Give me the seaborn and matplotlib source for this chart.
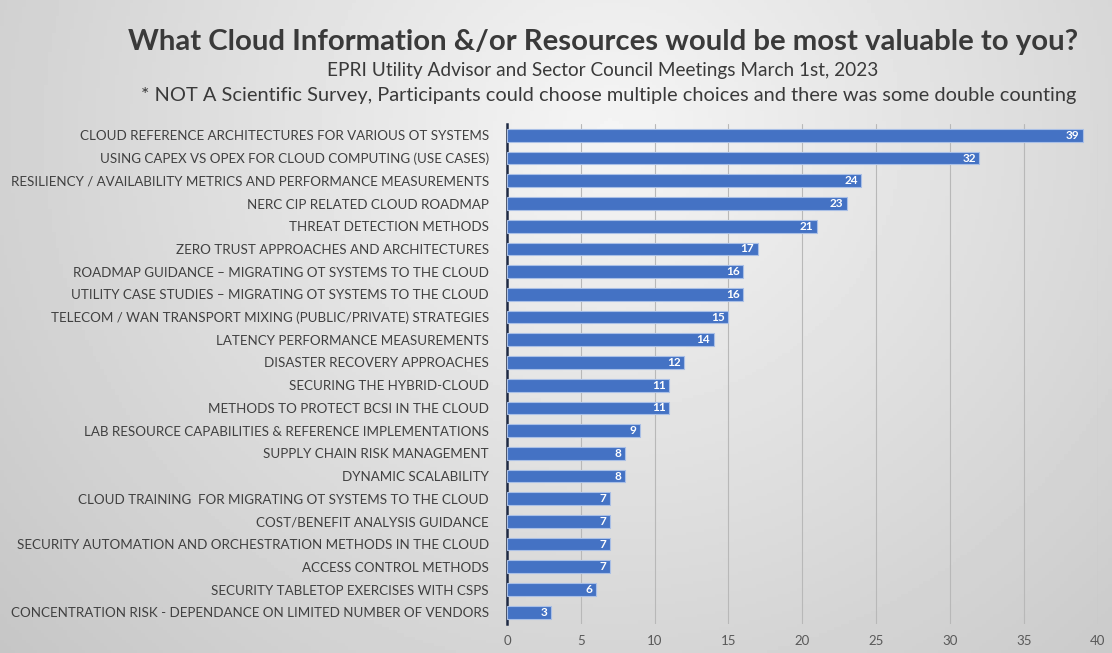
import matplotlib
matplotlib.use("Agg")
import matplotlib.pyplot as plt
import numpy as np
import pandas as pd
import seaborn as sns

categories = [
    "CLOUD REFERENCE ARCHITECTURES FOR VARIOUS OT SYSTEMS",
    "USING CAPEX VS OPEX FOR CLOUD COMPUTING (USE CASES)",
    "RESILIENCY / AVAILABILITY METRICS AND PERFORMANCE MEASUREMENTS",
    "NERC CIP RELATED CLOUD ROADMAP",
    "THREAT DETECTION METHODS",
    "ZERO TRUST APPROACHES AND ARCHITECTURES",
    "ROADMAP GUIDANCE \u2013 MIGRATING OT SYSTEMS TO THE CLOUD",
    "UTILITY CASE STUDIES \u2013 MIGRATING OT SYSTEMS TO THE CLOUD",
    "TELECOM / WAN TRANSPORT MIXING (PUBLIC/PRIVATE) STRATEGIES",
    "LATENCY PERFORMANCE MEASUREMENTS",
    "DISASTER RECOVERY APPROACHES",
    "SECURING THE HYBRID-CLOUD",
    "METHODS TO PROTECT BCSI IN THE CLOUD",
    "LAB RESOURCE CAPABILITIES & REFERENCE IMPLEMENTATIONS",
    "SUPPLY CHAIN RISK MANAGEMENT",
    "DYNAMIC SCALABILITY",
    "CLOUD TRAINING  FOR MIGRATING OT SYSTEMS TO THE CLOUD",
    "COST/BENEFIT ANALYSIS GUIDANCE",
    "SECURITY AUTOMATION AND ORCHESTRATION METHODS IN THE CLOUD",
    "ACCESS CONTROL METHODS",
    "SECURITY TABLETOP EXERCISES WITH CSPS",
    "CONCENTRATION RISK - DEPENDANCE ON LIMITED NUMBER OF VENDORS",
]
votes = [39, 32, 24, 23, 21, 17, 16, 16, 15, 14, 12, 11, 11, 9, 8, 8, 7, 7, 7, 7, 6, 3]
x_ticks = [0, 5, 10, 15, 20, 25, 30, 35, 40]

df = pd.DataFrame({"topic": categories, "votes": votes})

sns.set_theme(style="white")
plt.rcParams["font.family"] = ["Lato", "DejaVu Sans"]

fig = plt.figure(figsize=(11.12, 6.53), dpi=100)

# soft grey background like the slide
bg = fig.add_axes([0, 0, 1, 1], zorder=-10)
yy, xx = np.mgrid[0:1:200j, 0:1:300j]
r = np.sqrt(((xx - 0.55) / 0.8) ** 2 + ((yy - 0.2) / 1.3) ** 2)
bg.imshow(0.96 - 0.2 * r, cmap="gray", vmin=0, vmax=1, aspect="auto",
          extent=[0, 1, 1, 0])
bg.axis("off")

ax = fig.add_axes([0.456, 0.045, 0.531, 0.765])
ax.patch.set_alpha(0)
sns.barplot(data=df, x="votes", y="topic", color="#4472C4", width=0.56,
            edgecolor="#a9bfe6", linewidth=0.8, saturation=1, ax=ax, zorder=3)

for i, v in enumerate(votes):
    ax.text(v - 0.25, i, str(v), ha="right", va="center", color="white",
            fontsize=8.5, fontweight="bold", zorder=4)

ax.set_xlim(0, 40)
ax.set_xticks(x_ticks)
ax.set_xlabel("")
ax.set_ylabel("")
ax.grid(axis="x", color="#b8b8b8", linewidth=0.8, zorder=0)
ax.tick_params(axis="x", labelsize=9.5, colors="#595959", length=0, pad=8)
ax.tick_params(axis="y", labelsize=9.6, colors="#404040", length=0, pad=13)
for s in ["top", "right", "bottom"]:
    ax.spines[s].set_visible(False)
ax.spines["left"].set_color("#1f2a44")
ax.spines["left"].set_linewidth(1.8)

fig.text(0.542, 0.935, "What Cloud Information &/or Resources would be most valuable to you?",
         ha="center", va="center", fontsize=21.2, fontweight="bold", color="#3a3a3a")
fig.text(0.542, 0.892, "EPRI Utility Advisor and Sector Council Meetings March 1st, 2023",
         ha="center", va="center", fontsize=13.7, color="#3a3a3a")
fig.text(0.547, 0.853, "* NOT A Scientific Survey, Participants could choose multiple choices and there was some double counting",
         ha="center", va="center", fontsize=14.4, color="#3a3a3a")

fig.savefig("out.png", dpi=100)
